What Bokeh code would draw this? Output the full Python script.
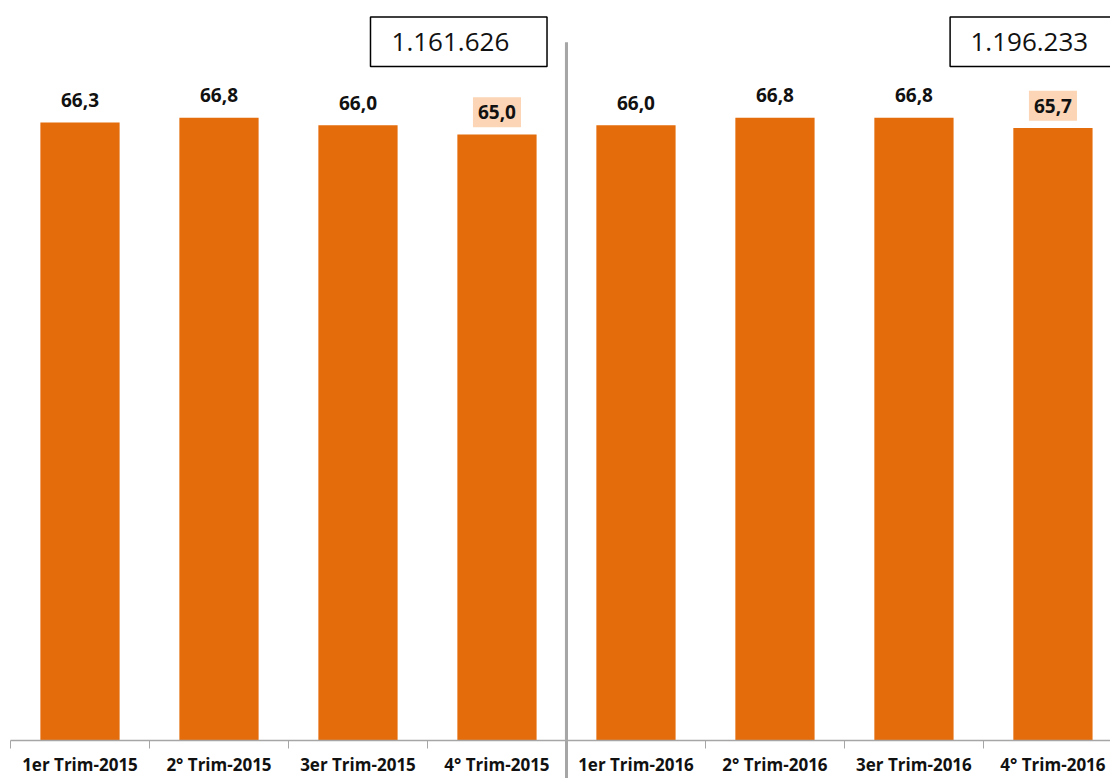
from bokeh.plotting import figure
from bokeh.models import FixedTicker, BoxAnnotation, Label, ColumnDataSource, LinearAxis
from bokeh.embed import file_html
from bokeh.resources import INLINE
from bokeh.core.properties import value

categories = ["1er Trim-2015", "2° Trim-2015", "3er Trim-2015", "4° Trim-2015",
              "1er Trim-2016", "2° Trim-2016", "3er Trim-2016", "4° Trim-2016"]
values = [66.3, 66.8, 66.0, 65.0, 66.0, 66.8, 66.8, 65.7]
highlight = [False, False, False, True, False, False, False, True]
totals = ["1.161.626", "1.196.233"]

ORANGE = "#E46C0A"
GRAY = "#A6A6A6"
FONT = "Open Sans"

xs = [i + 0.5 for i in range(len(categories))]
labels = [f"{v:.1f}".replace(".", ",") for v in values]
OFF = 2.4

p = figure(width=1110, height=778, x_range=(0, 7.914), y_range=(0, 79.38),
           output_backend="svg", toolbar_location=None,
           min_border_left=10, min_border_right=0, min_border_top=0, min_border_bottom=35)
p.outline_line_color = None
p.xgrid.visible = False
p.ygrid.visible = False
p.yaxis.visible = False
p.background_fill_color = "white"

src = ColumnDataSource(dict(x=xs, top=values))
p.vbar(x="x", top="top", width=0.57, source=src, color=ORANGE, line_color=None)

norm = ColumnDataSource(dict(x=[x for x, h in zip(xs, highlight) if not h],
                             y=[v + OFF for v, h in zip(values, highlight) if not h],
                             t=[l for l, h in zip(labels, highlight) if not h]))
hi = ColumnDataSource(dict(x=[x for x, h in zip(xs, highlight) if h],
                           y=[v + OFF for v, h in zip(values, highlight) if h],
                           t=[l for l, h in zip(labels, highlight) if h]))
p.text(x="x", y="y", text="t", source=norm, text_align="center", text_baseline="middle",
       text_font=value(FONT), text_font_style="bold", text_font_size="19px", text_color="#111111")
p.text(x="x", y="y", text="t", source=hi, text_align="center", text_baseline="middle",
       text_font=value(FONT), text_font_style="bold", text_font_size="19px", text_color="#111111",
       background_fill_color="#FBD5B5", padding=dict(left=5, right=5, top=8, bottom=8))

ax = p.xaxis[0]
ax.ticker = FixedTicker(ticks=xs, minor_ticks=list(range(len(categories) + 1)))
ax.major_label_overrides = {x: c for x, c in zip(xs, categories)}
ax.major_tick_out = 0
ax.major_tick_in = 0
ax.minor_tick_out = 8
ax.minor_tick_in = 0
ax.minor_tick_line_color = GRAY
ax.axis_line_color = GRAY
ax.axis_line_width = 1.5
ax.major_label_standoff = 4
ax.major_label_text_font = FONT
ax.major_label_text_font_style = "bold"
ax.major_label_text_font_size = "17px"
ax.major_label_text_color = "#111111"

# separator continuing below the plot area, drawn as an inward minor tick of a second axis
sep_axis = LinearAxis(ticker=FixedTicker(ticks=[], minor_ticks=[4]),
                      major_tick_in=0, major_tick_out=0,
                      minor_tick_in=45, minor_tick_out=0,
                      minor_tick_line_width=3, minor_tick_line_color=GRAY,
                      axis_line_color=None, major_label_standoff=0)
p.add_layout(sep_axis, "below")

# separator inside plot area
p.add_layout(BoxAnnotation(left=3.989, right=4.011, top=74.9, bottom=0,
                           fill_color=GRAY, fill_alpha=1, line_color=None))

# total boxes
for (l, r), t in zip([(2.59, 3.86), (6.76, 8.2)], totals):
    p.add_layout(BoxAnnotation(left=l, right=r, top=77.6, bottom=72.3,
                               fill_color="white", fill_alpha=1,
                               line_color="black", line_alpha=1, line_width=1.5))
p.add_layout(Label(x=3.165, y=74.9, text=totals[0], text_align="center",
                   text_baseline="middle", text_font=FONT, text_font_size="26px",
                   text_color="#111111"))
p.add_layout(Label(x=7.33, y=74.9, text=totals[1], text_align="center",
                   text_baseline="middle", text_font=FONT, text_font_size="26px",
                   text_color="#111111"))

open("out.html", "w").write(file_html(p, INLINE))
